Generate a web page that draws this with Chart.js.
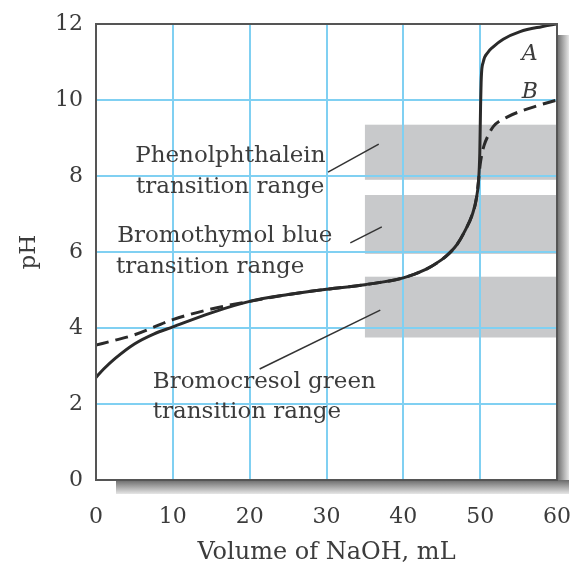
<!DOCTYPE html>
<html>
<head>
<meta charset="utf-8">
<script src="https://cdn.jsdelivr.net/npm/chart.js@4/dist/chart.umd.min.js"></script>
<style>
  html, body { margin: 0; padding: 0; background: #fff; }
  #wrap { width: 571px; height: 570px; }
</style>
</head>
<body>
<div id="wrap"><canvas id="titration" width="571" height="570"></canvas></div>
<script>
// curve A (solid) and curve B (dashed): [mL NaOH, pH]
const curveA = [
  [0, 2.7], [1, 2.92], [2.5, 3.2], [5, 3.58], [7.5, 3.84], [10, 4.03], [15, 4.4],
  [20, 4.7], [25, 4.88], [30, 5.02], [35, 5.14], [40, 5.32], [43, 5.55], [45, 5.8],
  [46, 5.97], [47, 6.2], [48, 6.55], [49, 7.0], [49.5, 7.4], [49.8, 7.9], [49.95, 8.6], [50.05, 9.8],
  [50.15, 10.6], [50.4, 11.0], [51, 11.25], [51.7, 11.4], [53, 11.6], [55.2, 11.8], [58, 11.93], [60, 12.0]
];
const curveB = [
  [0, 3.55], [2.5, 3.68], [5, 3.82], [10, 4.22], [15, 4.5], [20, 4.7], [25, 4.88],
  [30, 5.02], [35, 5.14], [40, 5.32], [43, 5.55], [45, 5.8], [46, 5.97], [47, 6.2], [48, 6.55],
  [49, 7.0], [49.5, 7.4], [49.8, 7.9], [50.0, 8.3], [50.2, 8.55], [50.5, 8.8], [51, 9.05],
  [51.7, 9.3], [53.5, 9.55], [57, 9.82], [60, 10.0]
];

// indicator transition ranges [pH low, pH high], shaded from 35 to 60 mL
const indicatorNames = ['Phenolphthalein', 'Bromothymol blue', 'Bromocresol green'];
const indicatorRanges = [[7.9, 9.35], [5.95, 7.5], [3.75, 5.35]];
const shadeFrom = 35, shadeTo = 60;

const xTicks = [0, 10, 20, 30, 40, 50, 60];
const yTicks = [0, 2, 4, 6, 8, 10, 12];

// text annotations in data units: [x, y]
const labelSpots = [
  { lines: [indicatorNames[0], 'transition range'], at: [[5.1, 8.37], [5.2, 7.55]], leader: [[30.2, 8.1], [36.8, 8.84]] },
  { lines: [indicatorNames[1], 'transition range'], at: [[2.75, 6.26], [2.6, 5.45]], leader: [[33.1, 6.24], [37.2, 6.66]] },
  { lines: [indicatorNames[2], 'transition range'], at: [[7.4, 2.42], [7.4, 1.63]], leader: [[21.3, 2.92], [37.0, 4.47]] }
];
const curveNames = [['A', 55.4, 11.05], ['B', 55.4, 10.05]];

const serif = '"DejaVu Serif", "Liberation Serif", serif';
const textColor = '#3c3c3c';

const toXY = arr => arr.map(p => ({ x: p[0], y: p[1] }));

const backdrop = {
  id: 'backdrop',
  beforeDraw(chart) {
    const { ctx, chartArea: a, scales: { x, y } } = chart;
    ctx.save();
    // drop shadow right and below the plot
    let g = ctx.createLinearGradient(a.right, 0, a.right + 12, 0);
    g.addColorStop(0, '#6a6a6a');
    g.addColorStop(1, '#e6e6e6');
    ctx.fillStyle = g;
    ctx.fillRect(a.right, a.top + 11, 12, a.bottom - a.top + 3);
    g = ctx.createLinearGradient(0, a.bottom, 0, a.bottom + 14);
    g.addColorStop(0, '#6a6a6a');
    g.addColorStop(1, '#e6e6e6');
    ctx.fillStyle = g;
    ctx.fillRect(a.left + 20, a.bottom, a.right - a.left - 8, 14);
    ctx.fillStyle = '#fff';
    ctx.fillRect(a.left, a.top, a.right - a.left, a.bottom - a.top);
    // grey transition ranges
    ctx.fillStyle = '#c8c9cb';
    indicatorRanges.forEach(r => {
      const x0 = x.getPixelForValue(shadeFrom), x1 = x.getPixelForValue(shadeTo);
      const y0 = y.getPixelForValue(r[1]), y1 = y.getPixelForValue(r[0]);
      ctx.fillRect(x0, y0, x1 - x0, y1 - y0);
    });
    ctx.restore();
  }
};

const annotate = {
  id: 'annotate',
  afterDraw(chart) {
    const { ctx, chartArea: a, scales: { x, y } } = chart;
    ctx.save();
    ctx.strokeStyle = '#555';
    ctx.lineWidth = 2;
    ctx.strokeRect(a.left, a.top, a.right - a.left, a.bottom - a.top);

    ctx.fillStyle = textColor;
    ctx.font = '23px ' + serif;
    ctx.textBaseline = 'alphabetic';
    ctx.textAlign = 'left';
    labelSpots.forEach(s => {
      s.lines.forEach((t, i) => ctx.fillText(t, x.getPixelForValue(s.at[i][0]), y.getPixelForValue(s.at[i][1])));
      ctx.strokeStyle = '#333';
      ctx.lineWidth = 1.5;
      ctx.beginPath();
      ctx.moveTo(x.getPixelForValue(s.leader[0][0]), y.getPixelForValue(s.leader[0][1]));
      ctx.lineTo(x.getPixelForValue(s.leader[1][0]), y.getPixelForValue(s.leader[1][1]));
      ctx.stroke();
    });
    ctx.font = 'italic 22px ' + serif;
    curveNames.forEach(c => ctx.fillText(c[0], x.getPixelForValue(c[1]), y.getPixelForValue(c[2])));
    ctx.restore();
  }
};

new Chart(document.getElementById('titration'), {
  type: 'line',
  data: {
    datasets: [
      {
        label: 'B', data: toXY(curveB), borderColor: '#2a2a2a', borderWidth: 3,
        borderDash: [13, 7], pointRadius: 0, cubicInterpolationMode: 'monotone', fill: false
      },
      {
        label: 'A', data: toXY(curveA), borderColor: '#2a2a2a', borderWidth: 3,
        pointRadius: 0, cubicInterpolationMode: 'monotone', fill: false
      }
    ]
  },
  options: {
    responsive: false,
    devicePixelRatio: 1,
    animation: false,
    layout: { padding: { left: 0, top: 24, right: 14, bottom: 0 } },
    plugins: { legend: { display: false }, tooltip: { enabled: false } },
    scales: {
      x: {
        type: 'linear', min: 0, max: 60,
        afterBuildTicks: s => { s.ticks = xTicks.map(v => ({ value: v })); },
        afterFit: s => { s.height = 90; s.paddingLeft = 0; s.paddingRight = 0; },
        ticks: { font: { family: serif, size: 22 }, color: textColor, padding: 24 },
        grid: { color: '#80d0f2', lineWidth: 2, drawTicks: false },
        border: { color: '#555', width: 2 },
        title: { display: true, text: 'Volume of NaOH, mL', font: { family: serif, size: 24 }, color: textColor, padding: { top: 0, bottom: 3 } }
      },
      y: {
        type: 'linear', min: 0, max: 12,
        afterBuildTicks: s => { s.ticks = yTicks.map(v => ({ value: v })); },
        afterFit: s => { s.width = 96; s.paddingTop = 0; s.paddingBottom = 0; },
        ticks: { font: { family: serif, size: 22 }, color: textColor, padding: 13 },
        grid: { color: '#80d0f2', lineWidth: 2, drawTicks: false },
        border: { color: '#555', width: 2 },
        title: { display: true, text: 'pH', font: { family: serif, size: 23 }, color: textColor, padding: { top: 15, bottom: 0 } }
      }
    }
  },
  plugins: [backdrop, annotate]
});
</script>
</body>
</html>
